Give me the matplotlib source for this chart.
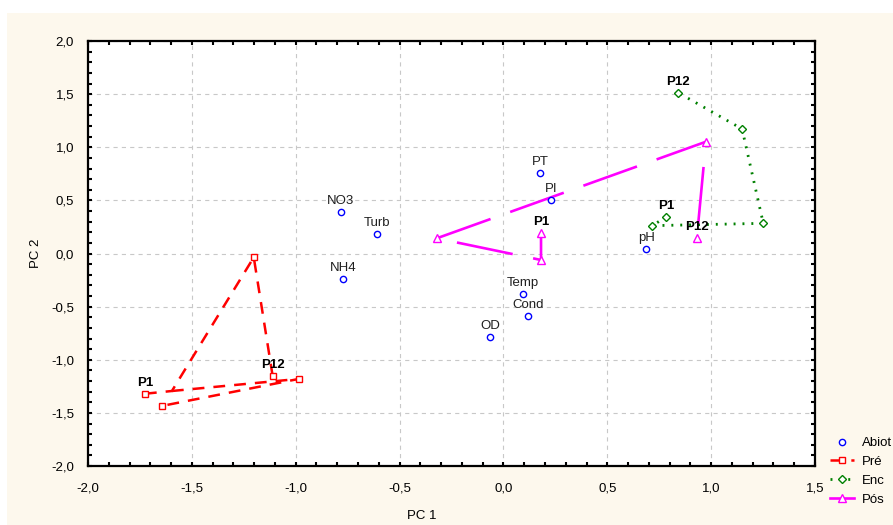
import matplotlib
matplotlib.use("Agg")
import matplotlib.pyplot as plt
from matplotlib.lines import Line2D
from matplotlib.patches import Rectangle
import numpy as np

plt.rcParams["font.family"] = ["Liberation Sans", "DejaVu Sans"]
plt.rcParams["lines.scale_dashes"] = False

# abiotic variables (PC1, PC2)
abiot_names = ["NO3", "Turb", "NH4", "PT", "PI", "Temp", "Cond", "OD", "pH"]
abiot_x = [-0.782, -0.609, -0.772, 0.176, 0.229, 0.094, 0.118, -0.065, 0.687]
abiot_y = [0.390, 0.180, -0.240, 0.757, 0.500, -0.380, -0.590, -0.790, 0.040]

# Pré: sampled points (P1 ... P12) and the drawn path
pre_x = [-1.726, -1.645, -0.984, -1.202, -1.111]
pre_y = [-1.320, -1.435, -1.180, -0.036, -1.153]
pre_path1_x = [-1.726, -1.596, -1.202, -1.111]
pre_path1_y = [-1.320, -1.294, -0.036, -1.153]
pre_path2_x = [-1.596, -0.984, -1.645]
pre_path2_y = [-1.294, -1.180, -1.435]

# Enc
enc_x = [0.784, 0.717, 1.251, 1.149, 0.842]
enc_y = [0.346, 0.262, 0.284, 1.172, 1.513]

# Pós
pos_x = [0.181, 0.181, -0.321, 0.975, 0.931]
pos_y = [0.196, -0.061, 0.143, 1.052, 0.143]

# P1 / P12 labels: (x, y, text)
p_labels = [(-1.726, -1.320, "P1"), (-1.111, -1.153, "P12"),
            (0.784, 0.346, "P1"), (0.842, 1.513, "P12"),
            (0.181, 0.196, "P1"), (0.931, 0.143, "P12")]

fig = plt.figure(figsize=(8.93, 5.25), dpi=100, facecolor="white")
fig.patches.append(Rectangle((7 / 893, 0), 1, 1 - 13 / 525, transform=fig.transFigure,
                             facecolor="#fdf8ed", edgecolor="none", zorder=-10))
ax = fig.add_axes([88 / 893, 1 - 466 / 525, 727 / 893, 425 / 525])
ax.set_facecolor("white")

RED, GREEN, MAG, BLUE = "#ff0000", "#008000", "#ff00ff", "#0000ff"

# Pré
ax.plot(pre_path1_x, pre_path1_y, color=RED, lw=1.8, dashes=(8.5, 6.5), zorder=3)
ax.plot(pre_path2_x, pre_path2_y, color=RED, lw=1.8, dashes=(8.5, 6.5), zorder=3)
ax.plot(pre_x, pre_y, ls="none", marker="s", ms=5, mfc="white", mec=RED, mew=1, zorder=5)

# Enc
ax.plot(enc_x, enc_y, color=GREEN, lw=2, dashes=(1.4, 5), zorder=3)
ax.plot(enc_x, enc_y, ls="none", marker="D", ms=4, mfc="white", mec=GREEN, mew=1, zorder=5)

# Pós
ax.plot(pos_x, pos_y, color=MAG, lw=1.9, linestyle=(15.5, (41, 15)), zorder=3)
ax.plot(pos_x, pos_y, ls="none", marker="^", ms=5.5, mfc="white", mec=MAG, mew=1, zorder=5)

# Abiot
ax.plot(abiot_x, abiot_y, ls="none", marker="o", ms=4.5, mfc="white", mec=BLUE, mew=1, zorder=5)
for n, x, y in zip(abiot_names, abiot_x, abiot_y):
    ax.annotate(n, (x, y), xytext=(0, 8), textcoords="offset points",
                ha="center", va="center", fontsize=9.5, color="#202020", zorder=6)

for x, y, t in p_labels:
    ax.annotate(t, (x, y), xytext=(0, 8), textcoords="offset points",
                ha="center", va="center", fontsize=9.5, fontweight="bold", color="black", zorder=6)

ax.set_xlim(-2.0, 1.5)
ax.set_ylim(-2.0, 2.0)
xt = np.arange(-2.0, 1.51, 0.5)
yt = np.arange(-2.0, 2.01, 0.5)
ax.set_xticks(xt)
ax.set_yticks(yt)
ax.set_xticklabels([f"{v:.1f}".replace(".", ",") for v in xt])
ax.set_yticklabels([f"{v:.1f}".replace(".", ",") for v in yt])
ax.set_xticks(np.arange(-2.0, 1.51, 0.1), minor=True)
ax.set_yticks(np.arange(-2.0, 2.01, 0.1), minor=True)
ax.tick_params(which="both", direction="in", top=True, right=True, length=3, width=1.5,
               labelsize=9.5, colors="black")
ax.tick_params(axis="x", pad=12)
ax.tick_params(axis="y", pad=10)
ax.grid(True, which="major", color="#c8c8c8", lw=0.8, dashes=(3, 3))
ax.set_axisbelow(True)
for s in ax.spines.values():
    s.set_linewidth(1.6)
    s.set_color("black")

ax.set_xlabel("PC 1", fontsize=9.5)
ax.set_ylabel("PC 2", fontsize=9.5)
ax.xaxis.set_label_coords((422 - 88) / 727, -0.103)
ax.yaxis.set_label_coords(-0.063, 0.5)

handles = [
    Line2D([], [], ls="none", marker="o", ms=4.5, mfc="white", mec=BLUE, mew=1),
    Line2D([], [], color=RED, lw=1.8, dashes=(8.5, 6.5), marker="s", ms=5, mfc="white", mec=RED, mew=1),
    Line2D([], [], color=GREEN, lw=2, dashes=(1.4, 5), marker="D", ms=4, mfc="white", mec=GREEN, mew=1),
    Line2D([], [], color=MAG, lw=1.9, marker="^", ms=5.5, mfc="white", mec=MAG, mew=1),
]
fig.legend(handles, ["Abiot", "Pré", "Enc", "Pós"], loc="upper left",
           bbox_to_anchor=(830 / 893, 1 - 437 / 525), bbox_transform=fig.transFigure,
           frameon=False, fontsize=9.5, handlelength=1.8, handletextpad=0.6,
           labelspacing=0.5, borderpad=0, borderaxespad=0)

fig.savefig("out.png", dpi=100, facecolor=fig.get_facecolor())
